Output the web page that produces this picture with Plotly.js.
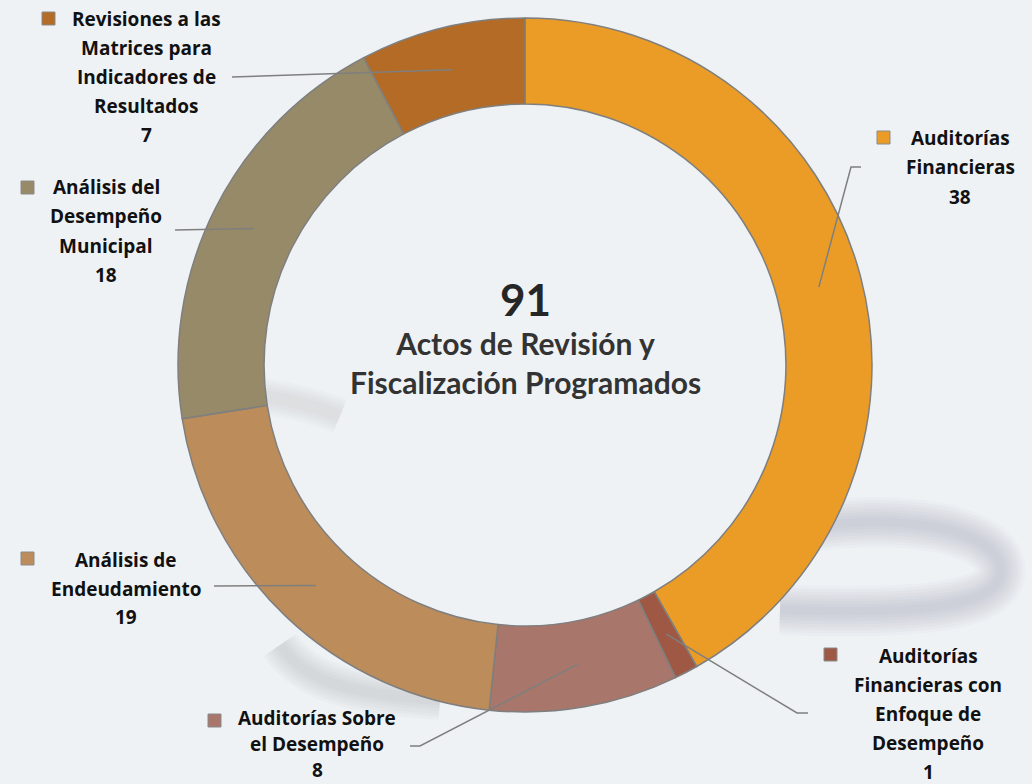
<!DOCTYPE html>
<html>
<head>
<meta charset="utf-8">
<script src="https://cdn.plot.ly/plotly-3.0.1.min.js"></script>
<style>html,body{margin:0;padding:0;background:#EFF2F5;}#chart{width:1032px;height:784px;}</style>
</head>
<body>
<div id="chart"></div>
<script>
// ---- data ----
const categories = [
  'Auditorías Financieras',
  'Auditorías Financieras con Enfoque de Desempeño',
  'Auditorías Sobre el Desempeño',
  'Análisis de Endeudamiento',
  'Análisis del Desempeño Municipal',
  'Revisiones a las Matrices para Indicadores de Resultados'
];
const values = [38, 1, 8, 19, 18, 7];
const labelLines = [
  ['Auditorías', 'Financieras'],
  ['Auditorías', 'Financieras con', 'Enfoque de', 'Desempeño'],
  ['Auditorías Sobre', 'el Desempeño'],
  ['Análisis de', 'Endeudamiento'],
  ['Análisis del', 'Desempeño', 'Municipal'],
  ['Revisiones a las', 'Matrices para', 'Indicadores de', 'Resultados']
];
const centerLines = ['Actos de Revisión y', 'Fiscalización Programados'];

// ---- styles / layout ----
const colors = ['#EA9C27', '#9E5843', '#A8766A', '#BD8C5B', '#978A69', '#B36B25'];
const W = 1032, H = 784;
const CX = 525, CY = 365, R = 347, HOLE = 0.752;
const labelLayout = [
  {cx: 960, y0: 138, step: 29.3, sq: [877, 131], from: [[861, 167], [851, 167]]},
  {cx: 928, y0: 656, step: 29.0, sq: [824, 648], from: [[808, 713], [797, 713]]},
  {cx: 317, y0: 718, step: 26.0, sq: [208, 714], from: [[410, 746], [420, 746]]},
  {cx: 126, y0: 560, step: 28.5, sq: [21, 552], from: [[214, 586]]},
  {cx: 106, y0: 187, step: 29.3, sq: [21, 181], from: [[175, 230]]},
  {cx: 146, y0: 19, step: 29.0, sq: [42, 12], from: [[232, 77]]}
];

const px = x => x / W;
const py = y => 1 - y / H;

const total = values.reduce((a, b) => a + b, 0);

const shapes = [];
const annotations = [];

// decorative soft swoosh (background)
function softStroke(path, widths, alpha) {
  widths.forEach(w => shapes.push({type: 'path', layer: 'below', xref: 'paper', yref: 'paper',
    path: path, line: {color: 'rgba(130,136,142,' + alpha + ')', width: w}}));
}
softStroke(`M ${px(780)} ${py(532)} C ${px(900)} ${py(508)}, ${px(1008)} ${py(530)}, ${px(1000)} ${py(575)} C ${px(993)} ${py(610)}, ${px(900)} ${py(614)}, ${px(780)} ${py(610)}`,
  [50, 44, 38, 32, 26, 20, 14, 8], 0.04);
softStroke(`M ${px(280)} ${py(645)} C ${px(305)} ${py(682)}, ${px(350)} ${py(694)}, ${px(440)} ${py(700)}`,
  [40, 34, 28, 22, 16, 10], 0.045);
softStroke(`M ${px(262)} ${py(396)} C ${px(290)} ${py(400)}, ${px(320)} ${py(408)}, ${px(340)} ${py(416)}`,
  [36, 30, 24, 18, 12], 0.035);

// labels, squares, leader lines
let cum = 0;
values.forEach((v, i) => {
  const mid = (cum + v / 2) / total * 2 * Math.PI;
  cum += v;
  const rm = R * (1 + HOLE) / 2;
  const ex = CX + rm * Math.sin(mid), ey = CY - rm * Math.cos(mid);
  const L = labelLayout[i];
  const lines = labelLines[i].concat([String(v)]);
  lines.forEach((t, k) => {
    annotations.push({xref: 'paper', yref: 'paper', x: px(L.cx), y: py(L.y0 + k * L.step),
      xanchor: 'center', yanchor: 'middle', showarrow: false, text: '<b>' + t + '</b>',
      font: {family: '"Open Sans", sans-serif', size: 19, color: '#111111'}});
  });
  shapes.push({type: 'rect', xref: 'paper', yref: 'paper', x0: px(L.sq[0]), x1: px(L.sq[0] + 13),
    y0: py(L.sq[1]), y1: py(L.sq[1] + 13), fillcolor: colors[i], line: {color: '#8a8a8a', width: 1}});
  const pts = L.from.concat([[ex, ey]]);
  let p = 'M ' + pts.map(q => px(q[0]) + ' ' + py(q[1])).join(' L ');
  shapes.push({type: 'path', xref: 'paper', yref: 'paper', path: p, line: {color: '#7f7f7f', width: 1.5}});
});

// center text: one annotation, three lines
annotations.push({xref: 'paper', yref: 'paper', x: px(CX), y: py(336), xanchor: 'center', yanchor: 'middle',
  showarrow: false,
  text: '<b><span style="font-size:44px;color:#262626">' + total + '</span></b><br><b>' + centerLines.join('</b><br><b>') + '</b>',
  font: {family: 'Lato, sans-serif', size: 30, color: '#333333'}});

const trace = {
  type: 'pie', labels: categories, values: values, sort: false, direction: 'clockwise', rotation: 0,
  hole: HOLE, textinfo: 'none', hoverinfo: 'none',
  marker: {colors: colors, line: {color: '#7f7f7f', width: 1.5}},
  domain: {x: [px(CX - R), px(CX + R)], y: [py(CY + R), py(CY - R)]}
};

const layout = {
  width: W, height: H, margin: {l: 0, r: 0, t: 0, b: 0},
  paper_bgcolor: '#EFF2F5', plot_bgcolor: 'rgba(0,0,0,0)', showlegend: false,
  shapes: shapes, annotations: annotations
};
Plotly.newPlot('chart', [trace], layout, {staticPlot: true, displayModeBar: false});
</script>
</body>
</html>
